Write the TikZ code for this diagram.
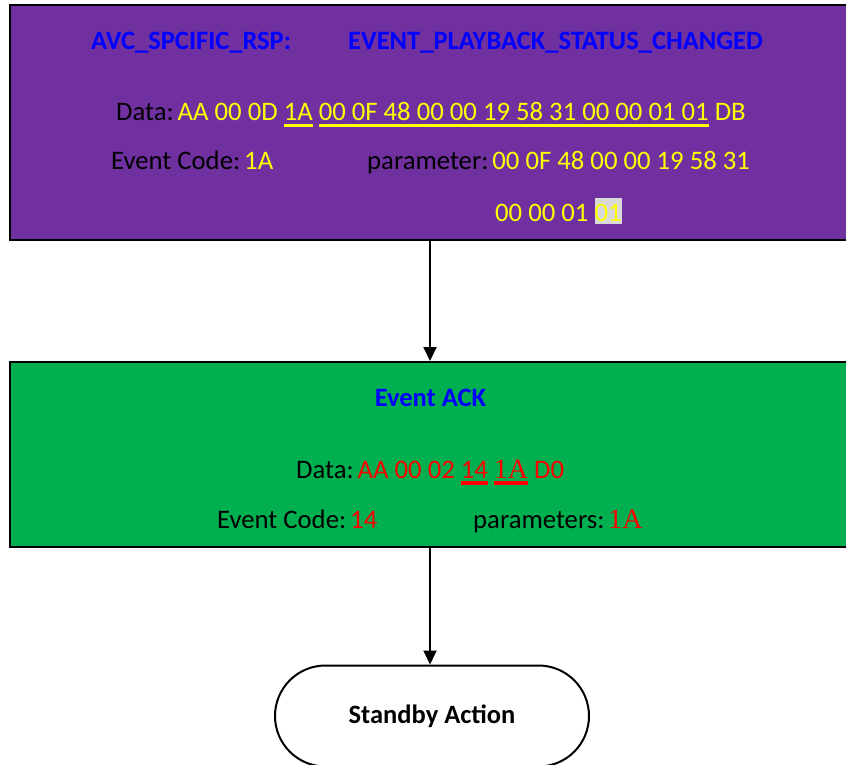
\documentclass[tikz,border=0pt]{standalone}
\usepackage{fontspec}
\setmainfont{Carlito}
\newfontfamily\tnr{Liberation Serif}
\usetikzlibrary{arrows.meta,shapes.misc}
\definecolor{purp}{RGB}{112,48,160}
\definecolor{grn}{RGB}{0,176,80}
\definecolor{ylw}{RGB}{255,255,0}
\definecolor{rd}{RGB}{255,0,0}
\definecolor{blu}{RGB}{0,0,255}
\definecolor{hl}{RGB}{217,217,217}
\newcommand\ulbar[2]{\setbox0\hbox{#2}\rlap{\color{#1}\rule[-6.5pt]{\wd0}{3.5pt}}\box0\relax}
\newcommand\hlbox[1]{{\setlength\fboxsep{0pt}\colorbox{hl}{\rule[-3pt]{0pt}{26pt}#1}}}
\newcommand\serifA{{\tnr\fontsize{28}{30}\selectfont 1A}}
\begin{document}
\begin{tikzpicture}[x=1pt,y=-1pt,
  txt/.style={anchor=base west,inner sep=0pt,font=\fontsize{26.7}{30}\selectfont},
  ttl/.style={txt,text=blu,font=\fontsize{26.5}{30}\selectfont\bfseries},
  box/.style={draw=black,line width=2pt,inner sep=0pt},
  arr/.style={draw=black,line width=2pt,-{Triangle[length=14pt,width=13pt]}}]
\useasboundingbox (0,0) rectangle (846,765);
\clip (0,0) rectangle (846,765);
\node[box,fill=purp,minimum width=860pt,minimum height=235pt] (top) at (440,122.5) {};
\node[box,fill=grn,minimum width=860pt,minimum height=185pt] (ack) at (440,454.5) {};
\node[rounded rectangle,draw=black,line width=2pt,fill=white,minimum width=314pt,minimum height=101pt,inner sep=0pt,font=\fontsize{26.5}{30}\selectfont\bfseries] (sb) at (432,716) {Standby Action};
\coordinate (ax) at (430,0);
\draw[arr] (top.south -| ax) -- (ack.north -| ax);
\draw[arr] (ack.south -| ax) -- (sb.north -| ax);
% top box text
\node[ttl] (t1) at (91,50) {AVC\_SPCIFIC\_RSP:};
\node[ttl] (t2) at (348,50) {EVENT\_PLAYBACK\_STATUS\_CHANGED};
\node[txt] (d1) at (116,121) {Data:\hspace{4pt}\textcolor{ylw}{AA 00 0D \ulbar{ylw}{1A} \ulbar{ylw}{00 0F 48 00 00 19 58 31 00 00 01 01} DB}};
\node[txt] (e1) at (111,170) {Event Code:\hspace{4pt}\textcolor{ylw}{1A}};
\node[txt] (p1) at (367,170) {parameter:\hspace{4pt}\textcolor{ylw}{00 0F 48 00 00 19 58 31}};
\node[txt] (p2) at (495,221) {\textcolor{ylw}{00 00 01 \hlbox{01}}};
% green box text
\node[ttl,anchor=base] (a1) at (430.5,406) {Event ACK};
\node[txt] (d2) at (296,478) {Data:\hspace{4pt}\textcolor{rd}{AA 00 02 \ulbar{rd}{14} \ulbar{rd}{\serifA} D0}};
\node[txt] (e2) at (217,528) {Event Code:\hspace{4pt}\textcolor{rd}{14}};
\node[txt] (p3) at (473,528) {parameters:\hspace{4pt}\textcolor{rd}{\serifA}};
\end{tikzpicture}
\end{document}
